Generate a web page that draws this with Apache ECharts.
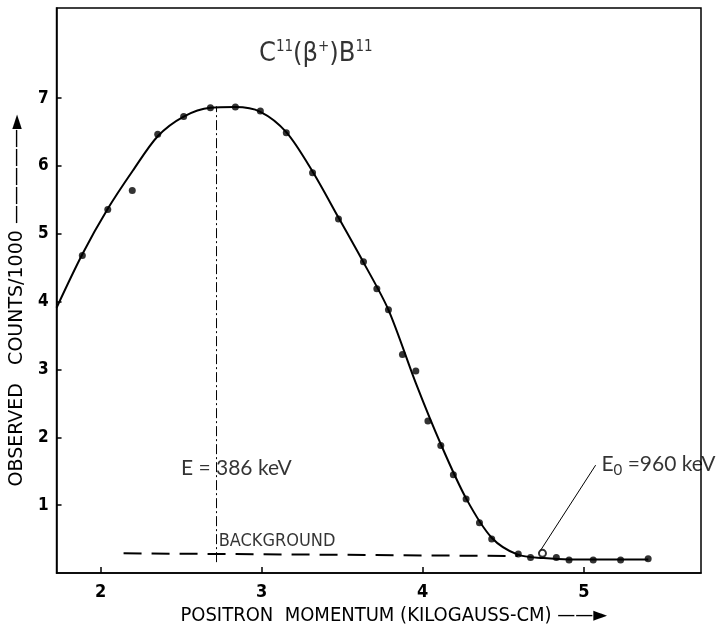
<!DOCTYPE html>
<html lang="en">
<head>
    <meta charset="UTF-8">
    <title>C11 positron spectrum</title>
    <script src="https://cdn.jsdelivr.net/npm/echarts@6.0.0/dist/echarts.min.js"></script>
    <style>
        body { margin: 0; background: #fff; }
        #chart { width: 719px; height: 632px; }
    </style>
</head>
<body>
    <div id="chart"></div>
    <script>
        // measured points: [momentum, counts/1000]
        const dataPoints = [
            [1.887, 4.68], [2.045, 5.36], [2.355, 6.47], [2.516, 6.73], [2.682, 6.86],
            [2.837, 6.87], [2.992, 6.81], [3.153, 6.49], [3.316, 5.90], [3.477, 5.22],
            [3.632, 4.59], [3.715, 4.19], [3.787, 3.88], [3.874, 3.22], [3.957, 2.98],
            [4.032, 2.24], [4.112, 1.88], [4.190, 1.45], [4.269, 1.09], [4.352, 0.74],
            [4.428, 0.50], [4.593, 0.28], [4.669, 0.23], [4.829, 0.23], [4.908, 0.19],
            [5.058, 0.19], [5.228, 0.19], [5.399, 0.21]
        ];
        const outlierPoints = [[2.197, 5.64]];
        const openPoints = [[4.743, 0.29]];

        // hand drawn fit curve
        const fitCurve = [
            [1.727, 3.91], [1.887, 4.70], [2.045, 5.37], [2.200, 5.93], [2.355, 6.44],
            [2.516, 6.73], [2.682, 6.86], [2.837, 6.87], [2.992, 6.80], [3.153, 6.50],
            [3.316, 5.92], [3.477, 5.24], [3.632, 4.58], [3.787, 3.88], [3.957, 2.80],
            [4.112, 1.90], [4.269, 1.10], [4.428, 0.52], [4.590, 0.27], [4.750, 0.22],
            [4.910, 0.20], [5.060, 0.20], [5.400, 0.20]
        ];
        const backgroundLine = [[2.143, 0.29], [4.590, 0.25]];
        const peakLine = [[2.72, 0.16], [2.72, 6.88]];
        const endpointPointer = [[4.722, 0.30], [5.073, 1.59]];

        // annotation anchors (left edge, vertical centre of the text)
        const notes = [
            { value: [2.496, 1.54], text: 'E = 386 keV' },
            { value: [5.106, 1.61], text: '{e|E}{sub|0}{e| =960 keV}' },
            { value: [2.73, 0.46], text: '{b|BACKGROUND}' },
            { value: [2.98, 7.65], text: '{a|C}{s|11}{a|(β}{s|+}{a|)B}{s|11}' }
        ];

        const xTicks = [2, 3, 4, 5];
        const yTicks = [1, 2, 3, 4, 5, 6, 7];

        const letterFont = "'DejaVu Sans Condensed', 'Liberation Sans Narrow', 'DejaVu Sans', sans-serif";
        const wideFont = "'DejaVu Sans', sans-serif";
        const noteFont = "Lato, 'Open Sans', sans-serif";

        const chart = echarts.init(document.getElementById('chart'));

        const option = {
            backgroundColor: '#fff',
            animation: false,
            grid: {
                left: 56, right: 18, top: 8, bottom: 59,
                show: true, borderColor: '#000', borderWidth: 1.5
            },
            xAxis: {
                type: 'value',
                min: 1.727,
                max: 5.727,
                name: 'POSITRON  MOMENTUM (KILOGAUSS-CM) ——►',
                nameLocation: 'middle',
                nameGap: 31,
                nameTextStyle: {
                    color: '#000', fontFamily: letterFont, fontSize: 20,
                    padding: [0, 0, 0, 30]
                },
                axisLine: { lineStyle: { color: '#000', width: 1.5 } },
                axisTick: {
                    inside: true, length: 6, lineStyle: { color: '#000', width: 1.5 },
                    customValues: xTicks
                },
                axisLabel: {
                    color: '#000', fontFamily: letterFont, fontSize: 18, fontWeight: 'bold',
                    margin: 10, customValues: xTicks
                },
                splitLine: { show: false }
            },
            yAxis: {
                type: 'value',
                min: 0,
                max: 8.33,
                name: 'OBSERVED   COUNTS/1000 —————►',
                nameLocation: 'middle',
                nameRotate: 90,
                nameGap: 26,
                nameTextStyle: {
                    color: '#000', fontFamily: wideFont, fontSize: 19,
                    padding: [0, 20, 0, 0]
                },
                axisLine: { lineStyle: { color: '#000', width: 1.5 } },
                axisTick: {
                    inside: true, length: 5, lineStyle: { color: '#000', width: 1.5 },
                    customValues: yTicks
                },
                axisLabel: {
                    color: '#000', fontFamily: letterFont, fontSize: 17, fontWeight: 'bold',
                    margin: 8, customValues: yTicks
                },
                splitLine: { show: false }
            },
            series: [
                {
                    name: 'fit',
                    type: 'line',
                    data: fitCurve,
                    smooth: 0.3,
                    symbol: 'none',
                    lineStyle: { color: '#000', width: 2 },
                    z: 3
                },
                {
                    name: 'background',
                    type: 'line',
                    data: backgroundLine,
                    symbol: 'none',
                    lineStyle: { color: '#000', width: 2, type: [18, 10] }
                },
                {
                    name: 'peak',
                    type: 'line',
                    data: peakLine,
                    symbol: 'none',
                    lineStyle: { color: '#000', width: 1, type: [10, 3, 2, 3] }
                },
                {
                    name: 'pointer',
                    type: 'line',
                    data: endpointPointer,
                    symbol: 'none',
                    lineStyle: { color: '#000', width: 1 }
                },
                {
                    name: 'points',
                    type: 'scatter',
                    data: dataPoints,
                    symbol: 'circle',
                    symbolSize: 7,
                    itemStyle: { color: '#000' },
                    z: 4
                },
                {
                    name: 'outlier',
                    type: 'scatter',
                    data: outlierPoints,
                    symbol: 'circle',
                    symbolSize: 7,
                    itemStyle: { color: '#000' },
                    z: 4
                },
                {
                    name: 'open',
                    type: 'scatter',
                    data: openPoints,
                    symbol: 'emptyCircle',
                    symbolSize: 7,
                    itemStyle: { color: '#000', borderWidth: 1.5 },
                    z: 4
                },
                {
                    name: 'notes',
                    type: 'scatter',
                    data: notes.map(n => ({ value: n.value, text: n.text })),
                    symbolSize: 1,
                    itemStyle: { color: 'rgba(0,0,0,0)' },
                    z: 5,
                    label: {
                        show: true,
                        position: 'right',
                        distance: 0,
                        color: '#000',
                        fontFamily: noteFont,
                        fontSize: 21,
                        formatter: p => p.data.text,
                        rich: {
                            e: { fontFamily: noteFont, fontSize: 21, color: '#000', lineHeight: 28 },
                            sub: { fontFamily: noteFont, fontSize: 15, color: '#000', verticalAlign: 'bottom', lineHeight: 22 },
                            b: { fontFamily: letterFont, fontSize: 18, color: '#000' },
                            a: { fontFamily: letterFont, fontSize: 27, color: '#000', lineHeight: 30 },
                            s: { fontFamily: letterFont, fontSize: 15, color: '#000', verticalAlign: 'top', lineHeight: 30 }
                        }
                    }
                }
            ]
        };
        chart.setOption(option);
    </script>
</body>
</html>
